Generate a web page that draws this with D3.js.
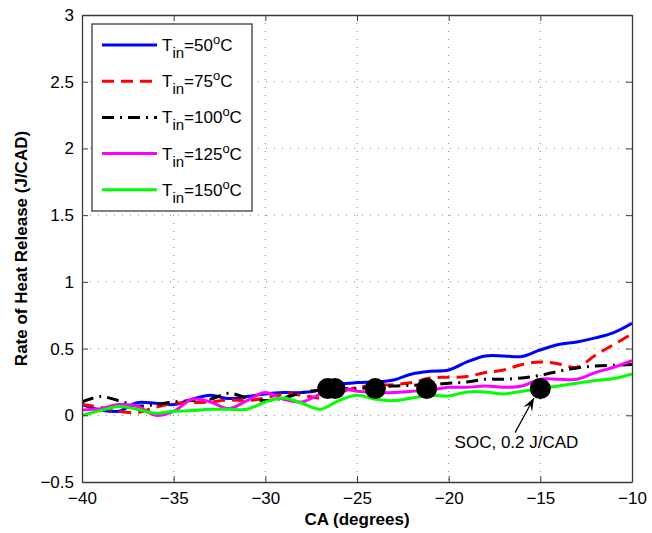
<!DOCTYPE html>
<html>
<head>
<meta charset="utf-8">
<script src="https://cdn.jsdelivr.net/npm/d3@7"></script>
<style>
  html, body { margin: 0; padding: 0; background: #fff; }
  svg { display: block; font-family: "Liberation Sans", Arial, Helvetica, sans-serif; }
</style>
</head>
<body>
<svg id="chart" width="652" height="533"></svg>
<script>
// ---------------- data ----------------
const caDeg = [-40,-39,-38,-37,-36,-35,-34,-33,-32,-31,-30,-29,-28,-27,-26,-25,-24,-23,-22,-21,-20,-19,-18,-17,-16,-15,-14,-13,-12,-11,-10];
const tin50  = [0.08,0.04,0.03,0.095,0.09,0.08,0.12,0.15,0.125,0.14,0.16,0.17,0.17,0.19,0.23,0.245,0.25,0.265,0.31,0.33,0.34,0.40,0.445,0.445,0.44,0.49,0.53,0.55,0.58,0.62,0.69];
const tin75  = [0.08,0.06,0.03,0.02,0.06,0.09,0.095,0.10,0.115,0.11,0.13,0.16,0.15,0.13,0.17,0.21,0.225,0.23,0.245,0.28,0.285,0.29,0.32,0.34,0.38,0.40,0.385,0.36,0.45,0.53,0.61];
const tin100 = [0.10,0.14,0.11,0.07,0.08,0.10,0.11,0.12,0.165,0.13,0.11,0.13,0.17,0.19,0.20,0.20,0.21,0.22,0.225,0.23,0.24,0.25,0.27,0.27,0.28,0.30,0.33,0.355,0.37,0.375,0.38];
const tin125 = [0.04,0.05,0.08,0.07,0.0,0.03,0.12,0.10,0.05,0.11,0.17,0.12,0.10,0.16,0.20,0.18,0.17,0.17,0.18,0.19,0.21,0.21,0.22,0.21,0.22,0.27,0.27,0.27,0.32,0.36,0.41];
const tin150 = [0.0,0.035,0.065,0.045,0.015,0.03,0.035,0.045,0.045,0.045,0.10,0.13,0.09,0.045,0.11,0.15,0.12,0.11,0.13,0.15,0.145,0.175,0.175,0.16,0.18,0.20,0.22,0.24,0.26,0.275,0.31];
const seriesNames = ["50", "75", "100", "125", "150"];
const seriesColors = ["#0000ff", "#ff0000", "#000000", "#ff00ff", "#00ff00"];
const seriesDash = [null, "12,7", "12,6,2,6", null, null];
const socX = [-26.6, -26.2, -24.0, -21.2, -15.0];
const socY = [0.2, 0.2, 0.2, 0.2, 0.2];
const xTicks = [-40,-35,-30,-25,-20,-15,-10];
const yTicks = [-0.5,0,0.5,1,1.5,2,2.5,3];
const annText = "SOC, 0.2 J/CAD";
const annTextPos = [-16.3, -0.245];
const annTail = [-16.38, -0.13];
const annTip = [-15.35, 0.13];

// ---------------- layout ----------------
const svg = d3.select("#chart");
const L = 82, R = 632, T = 15, B = 482;
const x = d3.scaleLinear().domain([-40, -10]).range([L, R]);
const y = d3.scaleLinear().domain([-0.5, 3]).range([B, T]);
const fmt = v => (v < 0 ? "\u2212" : "") + Math.abs(v);

// grid
const grid = svg.append("g");
grid.selectAll("line.gx").data(xTicks.slice(1, -1)).enter().append("line")
  .attr("x1", d => x(d)).attr("x2", d => x(d)).attr("y1", T).attr("y2", B)
  .attr("stroke", "#808080").attr("stroke-width", 1).attr("stroke-dasharray", "1,7");
grid.selectAll("line.gy").data(yTicks.slice(1, -1)).enter().append("line")
  .attr("y1", d => y(d)).attr("y2", d => y(d)).attr("x1", L).attr("x2", R)
  .attr("stroke", "#808080").attr("stroke-width", 1).attr("stroke-dasharray", "1,7");

// lines
const defs = svg.append("defs");
defs.append("clipPath").attr("id", "clip").append("rect")
  .attr("x", L).attr("y", T).attr("width", R - L).attr("height", B - T);
const allSeries = [tin50, tin75, tin100, tin125, tin150];
const line = d3.line().x((d, i) => x(caDeg[i])).y(d => y(d)).curve(d3.curveCatmullRom.alpha(0.5));
const lines = svg.append("g").attr("clip-path", "url(#clip)");
allSeries.forEach((s, k) => {
  lines.append("path").datum(s).attr("d", line)
    .attr("fill", "none").attr("stroke", seriesColors[k]).attr("stroke-width", 3)
    .attr("stroke-dasharray", seriesDash[k]).attr("stroke-linejoin", "round");
});

// SOC markers
svg.append("g").selectAll("circle").data(socX).enter().append("circle")
  .attr("cx", d => x(d)).attr("cy", (d, i) => y(socY[i])).attr("r", 10.5).attr("fill", "#000");

// axes box
const axisColor = "#3a3a3a";
const axB = d3.axisBottom(x).tickValues(xTicks).tickFormat(fmt).tickSizeInner(-6).tickSizeOuter(0).tickPadding(10);
const axL = d3.axisLeft(y).tickValues(yTicks).tickFormat(fmt).tickSizeInner(-6).tickSizeOuter(0).tickPadding(8);
const axT = d3.axisTop(x).tickValues(xTicks).tickFormat("").tickSizeInner(-6).tickSizeOuter(0);
const axR = d3.axisRight(y).tickValues(yTicks).tickFormat("").tickSizeInner(-6).tickSizeOuter(0);
const gB = svg.append("g").attr("transform", `translate(0,${B})`).call(axB);
const gL = svg.append("g").attr("transform", `translate(${L},0)`).call(axL);
const gT = svg.append("g").attr("transform", `translate(0,${T})`).call(axT);
const gR = svg.append("g").attr("transform", `translate(${R},0)`).call(axR);
[gB, gL, gT, gR].forEach(g => {
  g.select(".domain").attr("stroke", axisColor).attr("stroke-width", 1.3);
  g.selectAll(".tick line").attr("stroke", axisColor);
  g.selectAll(".tick text").attr("fill", "#000").style("font-size", "17px")
    .style("font-family", "Liberation Sans, Arial, sans-serif");
});

// axis labels
svg.append("text").attr("x", (L + R) / 2).attr("y", 525).attr("text-anchor", "middle")
  .style("font-size", "17px").style("font-weight", "bold").text("CA (degrees)");
svg.append("text").attr("transform", `translate(27,${(T + B) / 2}) rotate(-90)`)
  .attr("text-anchor", "middle").style("font-size", "17px").style("font-weight", "bold")
  .text("Rate of Heat Release (J/CAD)");

// annotation
svg.append("line").attr("x1", x(annTail[0])).attr("y1", y(annTail[1]))
  .attr("x2", x(annTip[0])).attr("y2", y(annTip[1])).attr("stroke", "#000").attr("stroke-width", 1.2);
{
  const x1 = x(annTail[0]), y1 = y(annTail[1]), x2 = x(annTip[0]), y2 = y(annTip[1]);
  const ang = Math.atan2(y2 - y1, x2 - x1);
  const hl = 13, hw = 5;
  const bx = x2 - hl * Math.cos(ang), by = y2 - hl * Math.sin(ang);
  const nx = -Math.sin(ang), ny = Math.cos(ang);
  svg.append("path")
    .attr("d", `M${x2},${y2}L${bx + nx * hw},${by + ny * hw}L${x2 - 0.6 * hl * Math.cos(ang)},${y2 - 0.6 * hl * Math.sin(ang)}L${bx - nx * hw},${by - ny * hw}Z`)
    .attr("fill", "#000");
}
svg.append("text").attr("x", x(annTextPos[0])).attr("y", y(annTextPos[1])).attr("text-anchor", "middle")
  .style("font-size", "17px").text(annText);

// legend
const leg = svg.append("g");
leg.append("rect").attr("x", 92).attr("y", 24).attr("width", 160).attr("height", 187)
  .attr("fill", "#fff").attr("stroke", "#3a3a3a").attr("stroke-width", 1.3);
seriesNames.forEach((nm, k) => {
  const ly = 45 + k * 36.2;
  leg.append("line").attr("x1", 102).attr("x2", 157).attr("y1", ly).attr("y2", ly)
    .attr("stroke", seriesColors[k]).attr("stroke-width", 3).attr("stroke-dasharray", seriesDash[k]);
  const t = leg.append("text").attr("x", 162).attr("y", ly + 6).style("font-size", "17px");
  t.append("tspan").text("T");
  t.append("tspan").attr("dy", 7).style("font-size", "15px").text("in");
  t.append("tspan").attr("dy", -7).text("=" + nm);
  t.append("tspan").attr("dy", -7).style("font-size", "13px").text("o");
  t.append("tspan").attr("dy", 7).text("C");
});
</script>
</body>
</html>
